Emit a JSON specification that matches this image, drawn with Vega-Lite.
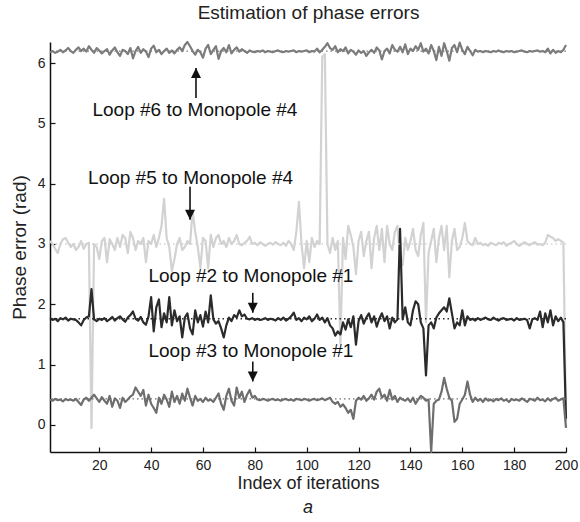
{
  "$schema": "https://vega.github.io/schema/vega-lite/v6.json",
  "width": 516,
  "height": 410,
  "autosize": {"type": "none"},
  "padding": {"left": 50, "top": 42, "right": 14, "bottom": 70},
  "background": "white",
  "config": {
    "view": {"stroke": null},
    "font": "Liberation Sans",
    "axis": {
      "domainColor": "#111", "domainWidth": 1.5, "tickColor": "#111", "tickWidth": 1.2, "tickSize": -5,
      "labelFontSize": 14, "labelColor": "#222", "labelFont": "Liberation Sans", "labelFlush": false, "labelOverlap": false,
      "titleFontSize": 18, "titleFontWeight": "normal", "titleColor": "#222", "titleFont": "Liberation Sans",
      "grid": false
    }
  },
  "title": {"text": "a", "orient": "bottom", "fontStyle": "italic", "fontWeight": "normal", "fontSize": 18, "font": "Liberation Sans", "color": "#222", "offset": 7, "anchor": "middle"},
  "resolve": {"axis": {"x": "independent", "y": "independent"}},
  "datasets": {
    "series": [
      {"x":1,"L6":6.18,"L5":3.05,"L2":1.77,"L3":0.42},
      {"x":2,"L6":6.2,"L5":3.0,"L2":1.74,"L3":0.4},
      {"x":3,"L6":6.17,"L5":2.92,"L2":1.76,"L3":0.43},
      {"x":4,"L6":6.19,"L5":2.85,"L2":1.72,"L3":0.41},
      {"x":5,"L6":6.22,"L5":3.0,"L2":1.77,"L3":0.42},
      {"x":6,"L6":6.18,"L5":3.08,"L2":1.75,"L3":0.39},
      {"x":7,"L6":6.21,"L5":3.1,"L2":1.78,"L3":0.43},
      {"x":8,"L6":6.25,"L5":3.02,"L2":1.73,"L3":0.41},
      {"x":9,"L6":6.2,"L5":2.95,"L2":1.76,"L3":0.42},
      {"x":10,"L6":6.17,"L5":3.0,"L2":1.75,"L3":0.4},
      {"x":11,"L6":6.22,"L5":2.9,"L2":1.74,"L3":0.43},
      {"x":12,"L6":6.26,"L5":2.95,"L2":1.7,"L3":0.38},
      {"x":13,"L6":6.2,"L5":3.05,"L2":1.65,"L3":0.33},
      {"x":14,"L6":6.24,"L5":2.92,"L2":1.74,"L3":0.42},
      {"x":15,"L6":6.19,"L5":3.0,"L2":1.78,"L3":0.45},
      {"x":16,"L6":6.28,"L5":3.02,"L2":1.8,"L3":0.4},
      {"x":17,"L6":6.22,"L5":-0.05,"L2":2.25,"L3":0.45},
      {"x":18,"L6":6.17,"L5":3.0,"L2":1.75,"L3":0.5},
      {"x":19,"L6":6.25,"L5":2.95,"L2":1.72,"L3":0.44},
      {"x":20,"L6":6.21,"L5":2.75,"L2":1.76,"L3":0.38},
      {"x":21,"L6":6.16,"L5":3.05,"L2":1.74,"L3":0.46},
      {"x":22,"L6":6.2,"L5":3.1,"L2":1.77,"L3":0.4},
      {"x":23,"L6":6.23,"L5":2.7,"L2":1.72,"L3":0.35},
      {"x":24,"L6":6.14,"L5":3.08,"L2":1.75,"L3":0.48},
      {"x":25,"L6":6.21,"L5":3.0,"L2":1.79,"L3":0.3},
      {"x":26,"L6":6.26,"L5":2.9,"L2":1.73,"L3":0.44},
      {"x":27,"L6":6.18,"L5":3.1,"L2":1.77,"L3":0.4},
      {"x":28,"L6":6.12,"L5":2.95,"L2":1.8,"L3":0.28},
      {"x":29,"L6":6.22,"L5":3.15,"L2":1.75,"L3":0.45},
      {"x":30,"L6":6.2,"L5":3.1,"L2":1.71,"L3":0.38},
      {"x":31,"L6":6.15,"L5":2.85,"L2":1.78,"L3":0.42},
      {"x":32,"L6":6.25,"L5":3.2,"L2":1.82,"L3":0.47},
      {"x":33,"L6":6.08,"L5":3.1,"L2":1.88,"L3":0.5},
      {"x":34,"L6":6.2,"L5":2.9,"L2":1.76,"L3":0.62},
      {"x":35,"L6":6.27,"L5":3.05,"L2":1.73,"L3":0.55},
      {"x":36,"L6":6.17,"L5":3.0,"L2":1.79,"L3":0.48},
      {"x":37,"L6":6.23,"L5":3.1,"L2":1.7,"L3":0.58},
      {"x":38,"L6":6.19,"L5":2.7,"L2":1.66,"L3":0.32},
      {"x":39,"L6":6.1,"L5":3.05,"L2":1.8,"L3":0.5},
      {"x":40,"L6":6.24,"L5":3.0,"L2":2.12,"L3":0.35},
      {"x":41,"L6":6.29,"L5":3.15,"L2":1.55,"L3":0.28},
      {"x":42,"L6":6.18,"L5":2.95,"L2":1.95,"L3":0.2},
      {"x":43,"L6":6.22,"L5":3.1,"L2":2.08,"L3":0.45},
      {"x":44,"L6":6.15,"L5":3.3,"L2":1.62,"L3":0.35},
      {"x":45,"L6":6.2,"L5":3.75,"L2":1.85,"L3":0.5},
      {"x":46,"L6":6.24,"L5":3.1,"L2":1.7,"L3":0.42},
      {"x":47,"L6":6.17,"L5":2.95,"L2":2.12,"L3":0.3},
      {"x":48,"L6":6.21,"L5":2.55,"L2":1.65,"L3":0.55},
      {"x":49,"L6":6.16,"L5":2.75,"L2":1.9,"L3":0.38},
      {"x":50,"L6":6.22,"L5":3.0,"L2":1.72,"L3":0.48},
      {"x":51,"L6":6.26,"L5":3.1,"L2":1.8,"L3":0.35},
      {"x":52,"L6":6.2,"L5":2.9,"L2":1.45,"L3":0.52},
      {"x":53,"L6":6.3,"L5":2.95,"L2":1.78,"L3":0.4},
      {"x":54,"L6":6.35,"L5":3.05,"L2":1.85,"L3":0.6},
      {"x":55,"L6":6.28,"L5":3.0,"L2":1.6,"L3":0.45},
      {"x":56,"L6":6.2,"L5":3.55,"L2":1.5,"L3":0.32},
      {"x":57,"L6":6.14,"L5":3.2,"L2":1.9,"L3":0.48},
      {"x":58,"L6":6.22,"L5":2.95,"L2":1.7,"L3":0.4},
      {"x":59,"L6":6.18,"L5":2.6,"L2":1.82,"L3":0.43},
      {"x":60,"L6":6.09,"L5":3.1,"L2":1.63,"L3":0.38},
      {"x":61,"L6":6.24,"L5":3.05,"L2":1.88,"L3":0.45},
      {"x":62,"L6":6.3,"L5":2.6,"L2":1.7,"L3":0.4},
      {"x":63,"L6":6.15,"L5":3.15,"L2":2.15,"L3":0.42},
      {"x":64,"L6":6.22,"L5":2.95,"L2":1.75,"L3":0.38},
      {"x":65,"L6":6.28,"L5":3.1,"L2":1.68,"L3":0.45},
      {"x":66,"L6":6.07,"L5":3.15,"L2":1.72,"L3":0.52},
      {"x":67,"L6":6.2,"L5":3.0,"L2":1.6,"L3":0.35},
      {"x":68,"L6":6.25,"L5":3.05,"L2":1.45,"L3":0.25},
      {"x":69,"L6":6.18,"L5":2.95,"L2":1.65,"L3":0.48},
      {"x":70,"L6":6.3,"L5":3.1,"L2":1.78,"L3":0.6},
      {"x":71,"L6":6.16,"L5":3.0,"L2":1.72,"L3":0.4},
      {"x":72,"L6":6.22,"L5":3.05,"L2":1.82,"L3":0.32},
      {"x":73,"L6":6.26,"L5":3.15,"L2":1.78,"L3":0.62},
      {"x":74,"L6":6.19,"L5":3.0,"L2":1.9,"L3":0.45},
      {"x":75,"L6":6.23,"L5":2.98,"L2":1.8,"L3":0.55},
      {"x":76,"L6":6.2,"L5":3.02,"L2":1.83,"L3":0.38},
      {"x":77,"L6":6.17,"L5":3.05,"L2":1.76,"L3":0.5},
      {"x":78,"L6":6.21,"L5":3.12,"L2":1.75,"L3":0.58},
      {"x":79,"L6":6.19,"L5":3.0,"L2":1.77,"L3":0.45},
      {"x":80,"L6":6.18,"L5":3.02,"L2":1.74,"L3":0.48},
      {"x":81,"L6":6.2,"L5":2.98,"L2":1.76,"L3":0.42},
      {"x":82,"L6":6.19,"L5":3.03,"L2":1.74,"L3":0.41},
      {"x":83,"L6":6.21,"L5":3.0,"L2":1.75,"L3":0.43},
      {"x":84,"L6":6.18,"L5":2.97,"L2":1.77,"L3":0.42},
      {"x":85,"L6":6.2,"L5":3.0,"L2":1.74,"L3":0.4},
      {"x":86,"L6":6.19,"L5":3.02,"L2":1.76,"L3":0.42},
      {"x":87,"L6":6.18,"L5":2.99,"L2":1.75,"L3":0.43},
      {"x":88,"L6":6.2,"L5":3.03,"L2":1.73,"L3":0.41},
      {"x":89,"L6":6.21,"L5":3.0,"L2":1.77,"L3":0.42},
      {"x":90,"L6":6.19,"L5":2.98,"L2":1.74,"L3":0.4},
      {"x":91,"L6":6.18,"L5":3.02,"L2":1.78,"L3":0.42},
      {"x":92,"L6":6.2,"L5":2.97,"L2":1.73,"L3":0.43},
      {"x":93,"L6":6.19,"L5":3.05,"L2":1.76,"L3":0.41},
      {"x":94,"L6":6.2,"L5":3.0,"L2":1.8,"L3":0.42},
      {"x":95,"L6":6.21,"L5":2.9,"L2":1.86,"L3":0.4},
      {"x":96,"L6":6.18,"L5":3.2,"L2":1.74,"L3":0.43},
      {"x":97,"L6":6.2,"L5":3.7,"L2":1.77,"L3":0.42},
      {"x":98,"L6":6.19,"L5":3.0,"L2":1.72,"L3":0.41},
      {"x":99,"L6":6.2,"L5":2.6,"L2":1.78,"L3":0.43},
      {"x":100,"L6":6.21,"L5":3.05,"L2":1.75,"L3":0.42},
      {"x":101,"L6":6.18,"L5":2.7,"L2":1.8,"L3":0.4},
      {"x":102,"L6":6.2,"L5":3.1,"L2":1.72,"L3":0.42},
      {"x":103,"L6":6.19,"L5":2.95,"L2":1.76,"L3":0.43},
      {"x":104,"L6":6.24,"L5":3.05,"L2":1.83,"L3":0.41},
      {"x":105,"L6":6.18,"L5":3.0,"L2":1.74,"L3":0.42},
      {"x":106,"L6":6.22,"L5":6.1,"L2":1.78,"L3":0.44},
      {"x":107,"L6":6.27,"L5":6.15,"L2":1.7,"L3":0.41},
      {"x":108,"L6":6.33,"L5":3.0,"L2":1.77,"L3":0.43},
      {"x":109,"L6":6.25,"L5":2.85,"L2":1.65,"L3":0.45},
      {"x":110,"L6":6.22,"L5":3.1,"L2":1.6,"L3":0.38},
      {"x":111,"L6":6.28,"L5":2.9,"L2":1.48,"L3":0.35},
      {"x":112,"L6":6.18,"L5":3.05,"L2":1.55,"L3":0.38},
      {"x":113,"L6":6.23,"L5":1.35,"L2":1.5,"L3":0.3},
      {"x":114,"L6":6.2,"L5":3.1,"L2":1.7,"L3":0.34},
      {"x":115,"L6":6.26,"L5":2.75,"L2":1.58,"L3":0.28},
      {"x":116,"L6":6.16,"L5":3.3,"L2":1.75,"L3":0.2},
      {"x":117,"L6":6.22,"L5":3.15,"L2":1.62,"L3":0.25},
      {"x":118,"L6":6.19,"L5":2.95,"L2":1.8,"L3":0.1},
      {"x":119,"L6":6.14,"L5":2.5,"L2":1.33,"L3":0.4},
      {"x":120,"L6":6.21,"L5":3.05,"L2":1.72,"L3":0.45},
      {"x":121,"L6":6.17,"L5":3.2,"L2":1.82,"L3":0.42},
      {"x":122,"L6":6.2,"L5":2.8,"L2":1.68,"L3":0.48},
      {"x":123,"L6":6.12,"L5":3.05,"L2":1.78,"L3":0.4},
      {"x":124,"L6":6.18,"L5":3.2,"L2":1.85,"L3":0.44},
      {"x":125,"L6":6.22,"L5":2.6,"L2":1.7,"L3":0.5},
      {"x":126,"L6":6.17,"L5":3.1,"L2":1.8,"L3":0.42},
      {"x":127,"L6":6.26,"L5":3.3,"L2":1.63,"L3":0.55},
      {"x":128,"L6":6.21,"L5":2.9,"L2":1.76,"L3":0.6},
      {"x":129,"L6":6.06,"L5":3.25,"L2":1.85,"L3":0.45},
      {"x":130,"L6":6.2,"L5":2.7,"L2":1.72,"L3":0.5},
      {"x":131,"L6":6.24,"L5":3.3,"L2":1.8,"L3":0.4},
      {"x":132,"L6":6.16,"L5":3.0,"L2":1.6,"L3":0.58},
      {"x":133,"L6":6.3,"L5":2.9,"L2":1.78,"L3":0.42},
      {"x":134,"L6":6.22,"L5":3.2,"L2":1.7,"L3":0.48},
      {"x":135,"L6":6.19,"L5":3.3,"L2":1.75,"L3":0.38},
      {"x":136,"L6":6.27,"L5":2.8,"L2":3.25,"L3":0.45},
      {"x":137,"L6":6.18,"L5":2.65,"L2":1.75,"L3":0.42},
      {"x":138,"L6":6.31,"L5":3.1,"L2":1.95,"L3":0.4},
      {"x":139,"L6":6.15,"L5":2.9,"L2":1.7,"L3":0.44},
      {"x":140,"L6":6.24,"L5":3.05,"L2":1.65,"L3":0.38},
      {"x":141,"L6":6.2,"L5":3.25,"L2":1.9,"L3":0.45},
      {"x":142,"L6":6.28,"L5":2.9,"L2":2.05,"L3":0.35},
      {"x":143,"L6":6.22,"L5":2.8,"L2":2.0,"L3":0.42},
      {"x":144,"L6":6.33,"L5":3.15,"L2":1.7,"L3":0.48},
      {"x":145,"L6":6.19,"L5":3.35,"L2":1.6,"L3":0.45},
      {"x":146,"L6":6.24,"L5":1.7,"L2":0.82,"L3":0.4},
      {"x":147,"L6":6.16,"L5":2.85,"L2":1.65,"L3":0.42},
      {"x":148,"L6":6.3,"L5":3.05,"L2":1.7,"L3":-0.45},
      {"x":149,"L6":6.2,"L5":3.25,"L2":1.6,"L3":0.35},
      {"x":150,"L6":6.05,"L5":2.7,"L2":1.78,"L3":0.4},
      {"x":151,"L6":6.27,"L5":3.1,"L2":1.85,"L3":0.42},
      {"x":152,"L6":6.12,"L5":3.3,"L2":1.9,"L3":0.55},
      {"x":153,"L6":6.33,"L5":2.9,"L2":1.95,"L3":0.78},
      {"x":154,"L6":6.2,"L5":3.3,"L2":1.88,"L3":0.6},
      {"x":155,"L6":6.04,"L5":2.45,"L2":2.1,"L3":0.45},
      {"x":156,"L6":6.25,"L5":3.05,"L2":1.85,"L3":0.4},
      {"x":157,"L6":6.3,"L5":3.25,"L2":1.6,"L3":0.05},
      {"x":158,"L6":6.18,"L5":2.9,"L2":1.7,"L3":0.1},
      {"x":159,"L6":6.34,"L5":2.95,"L2":1.65,"L3":0.35},
      {"x":160,"L6":6.22,"L5":3.1,"L2":1.9,"L3":0.42},
      {"x":161,"L6":6.15,"L5":3.35,"L2":1.65,"L3":0.5},
      {"x":162,"L6":6.27,"L5":3.05,"L2":1.8,"L3":0.72},
      {"x":163,"L6":6.2,"L5":3.0,"L2":1.74,"L3":0.5},
      {"x":164,"L6":6.13,"L5":2.98,"L2":1.76,"L3":0.38},
      {"x":165,"L6":6.22,"L5":3.1,"L2":1.73,"L3":0.45},
      {"x":166,"L6":6.19,"L5":3.0,"L2":1.77,"L3":0.4},
      {"x":167,"L6":6.2,"L5":3.02,"L2":1.74,"L3":0.43},
      {"x":168,"L6":6.18,"L5":2.98,"L2":1.76,"L3":0.38},
      {"x":169,"L6":6.2,"L5":3.0,"L2":1.78,"L3":0.44},
      {"x":170,"L6":6.19,"L5":2.97,"L2":1.75,"L3":0.4},
      {"x":171,"L6":6.18,"L5":3.02,"L2":1.74,"L3":0.42},
      {"x":172,"L6":6.2,"L5":3.0,"L2":1.78,"L3":0.39},
      {"x":173,"L6":6.19,"L5":2.98,"L2":1.75,"L3":0.43},
      {"x":174,"L6":6.21,"L5":3.02,"L2":1.73,"L3":0.41},
      {"x":175,"L6":6.19,"L5":3.0,"L2":1.76,"L3":0.44},
      {"x":176,"L6":6.18,"L5":3.03,"L2":1.77,"L3":0.4},
      {"x":177,"L6":6.2,"L5":2.97,"L2":1.74,"L3":0.42},
      {"x":178,"L6":6.19,"L5":3.0,"L2":1.75,"L3":0.38},
      {"x":179,"L6":6.2,"L5":3.02,"L2":1.76,"L3":0.43},
      {"x":180,"L6":6.18,"L5":3.05,"L2":1.73,"L3":0.41},
      {"x":181,"L6":6.19,"L5":3.0,"L2":1.77,"L3":0.42},
      {"x":182,"L6":6.2,"L5":2.97,"L2":1.74,"L3":0.4},
      {"x":183,"L6":6.21,"L5":3.0,"L2":1.75,"L3":0.44},
      {"x":184,"L6":6.19,"L5":3.03,"L2":1.76,"L3":0.41},
      {"x":185,"L6":6.18,"L5":3.0,"L2":1.74,"L3":0.38},
      {"x":186,"L6":6.2,"L5":2.98,"L2":1.6,"L3":0.43},
      {"x":187,"L6":6.19,"L5":3.01,"L2":1.75,"L3":0.42},
      {"x":188,"L6":6.2,"L5":3.03,"L2":1.77,"L3":0.4},
      {"x":189,"L6":6.21,"L5":2.99,"L2":1.74,"L3":0.45},
      {"x":190,"L6":6.19,"L5":3.0,"L2":1.88,"L3":0.41},
      {"x":191,"L6":6.2,"L5":2.98,"L2":1.62,"L3":0.42},
      {"x":192,"L6":6.18,"L5":3.02,"L2":1.85,"L3":0.39},
      {"x":193,"L6":6.24,"L5":3.15,"L2":1.7,"L3":0.44},
      {"x":194,"L6":6.16,"L5":3.12,"L2":1.9,"L3":0.4},
      {"x":195,"L6":6.22,"L5":3.1,"L2":1.65,"L3":0.43},
      {"x":196,"L6":6.17,"L5":3.05,"L2":1.8,"L3":0.45},
      {"x":197,"L6":6.2,"L5":3.08,"L2":1.72,"L3":0.4},
      {"x":198,"L6":6.18,"L5":3.05,"L2":1.78,"L3":0.42},
      {"x":199,"L6":6.22,"L5":3.02,"L2":1.7,"L3":0.44},
      {"x":200,"L6":6.3,"L5":0.05,"L2":0.1,"L3":-0.05}
    ],
    "refs": [
      {"series": "L5", "level": 3.0},
      {"series": "L2", "level": 1.76},
      {"series": "L3", "level": 0.43},
      {"series": "L6", "level": 6.2}
    ],
    "notes": [
      {"label": "Loop #6 to Monopole #4", "x": 56.9, "y": 5.22},
      {"label": "Loop #5 to Monopole #4", "x": 55.2, "y": 4.1},
      {"label": "Loop #2 to Monopole #1", "x": 78.5, "y": 2.47},
      {"label": "Loop #3 to Monopole #1", "x": 78.5, "y": 1.23}
    ],
    "arrows": [
      {"x": 57.3, "tail": 5.42, "tip": 5.92, "dir": "up"},
      {"x": 55.0, "tail": 3.95, "tip": 3.4, "dir": "down"},
      {"x": 79.2, "tail": 2.19, "tip": 1.86, "dir": "down"},
      {"x": 79.2, "tail": 1.05, "tip": 0.72, "dir": "down"}
    ]
  },
  "layer": [
    {
      "data": {"name": "series"},
      "transform": [{"fold": ["L5", "L2", "L3", "L6"], "as": ["series", "value"]}],
      "mark": {"type": "line", "strokeWidth": 2.2, "strokeJoin": "round"},
      "encoding": {
        "x": {"field": "x", "type": "quantitative", "scale": {"domain": [1, 200], "nice": false, "zero": false},
              "axis": {"values": [20, 40, 60, 80, 100, 120, 140, 160, 180, 200], "title": "Index of iterations", "labelPadding": 11, "titlePadding": 2}},
        "y": {"field": "value", "type": "quantitative", "scale": {"domain": [-0.45, 6.35], "nice": false, "zero": false},
              "axis": {"values": [0, 1, 2, 3, 4, 5, 6], "title": "Phase error (rad)", "titleFontSize": 19, "labelPadding": 10, "titlePadding": 8}},
        "color": {"field": "series", "type": "nominal", "scale": {"domain": ["L5", "L2", "L3", "L6"], "range": ["#d2d2d2", "#2b2b2b", "#6e6e6e", "#7c7c7c"]}, "legend": null}
      }
    },
    {
      "data": {"name": "refs"},
      "mark": {"type": "rule", "strokeDash": [1.5, 3], "strokeWidth": 1.3},
      "encoding": {
        "y": {"field": "level", "type": "quantitative", "axis": null},
        "color": {"field": "series", "type": "nominal", "legend": null}
      }
    },
    {
      "data": {"name": "notes"},
      "mark": {"type": "text", "fontSize": 19, "align": "center", "baseline": "middle", "color": "#111", "font": "Liberation Sans"},
      "encoding": {
        "x": {"field": "x", "type": "quantitative",
              "axis": {"orient": "top", "title": "Estimation of phase errors", "titleFontSize": 19, "labels": false, "ticks": false, "domain": false, "titlePadding": 20}},
        "y": {"field": "y", "type": "quantitative", "axis": null},
        "text": {"field": "label"}
      }
    },
    {
      "data": {"name": "arrows"},
      "mark": {"type": "rule", "strokeWidth": 1.6, "color": "#111"},
      "encoding": {
        "x": {"field": "x", "type": "quantitative", "axis": null},
        "y": {"field": "tail", "type": "quantitative", "axis": null},
        "y2": {"field": "tip"}
      }
    },
    {
      "data": {"name": "arrows"},
      "mark": {"type": "point", "filled": true, "size": 400, "opacity": 1, "color": "#111", "strokeWidth": 0},
      "encoding": {
        "x": {"field": "x", "type": "quantitative", "axis": null},
        "y": {"field": "tip", "type": "quantitative", "axis": null},
        "shape": {"field": "dir", "type": "nominal", "scale": {"domain": ["up", "down"], "range": ["M-0.5,1L0.5,1L0,0Z", "M-0.5,-1L0.5,-1L0,0Z"]}, "legend": null}
      }
    }
  ]
}
